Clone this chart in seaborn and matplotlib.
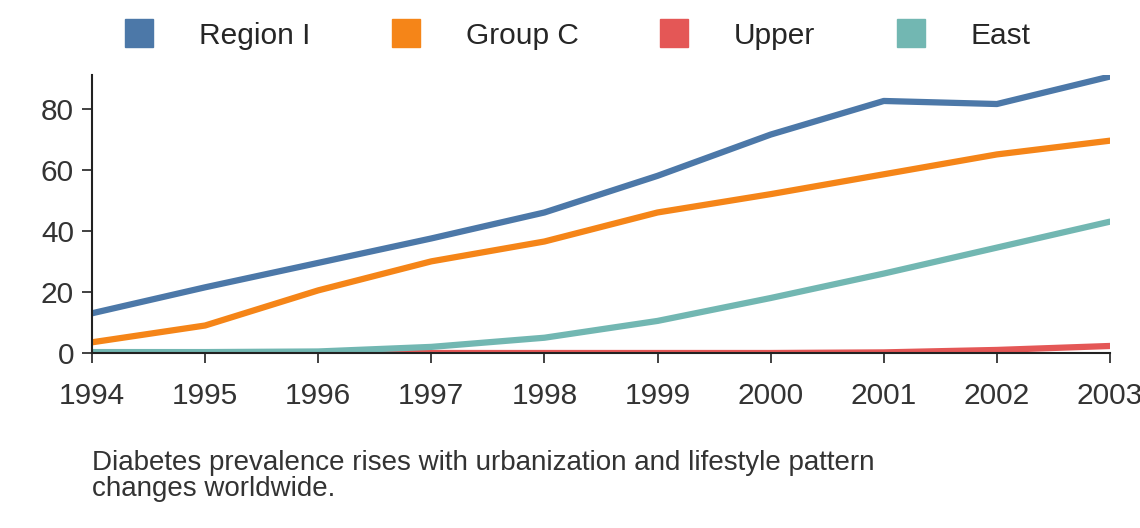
import matplotlib
matplotlib.use("Agg")
import matplotlib.pyplot as plt
import seaborn as sns
import pandas as pd
from matplotlib.lines import Line2D

years = [1994, 1995, 1996, 1997, 1998, 1999, 2000, 2001, 2002, 2003]
region_i = [13, 21.5, 29.5, 37.5, 46, 58, 71.5, 82.5, 81.5, 90.5]
group_c = [3.5, 9, 20.5, 30, 36.5, 46, 52, 58.5, 65, 69.5]
upper = [0, 0, 0, 0, 0, 0, 0, 0.2, 1, 2.3]
east = [0.3, 0.3, 0.5, 2, 5, 10.5, 18, 26, 34.5, 43]
names = ["Region I", "Group C", "Upper", "East"]
colors = ["#4c78a8", "#f58518", "#e45756", "#72b7b2"]

df = pd.DataFrame({"year": years * 4,
                   "value": region_i + group_c + upper + east,
                   "series": sum([[n] * len(years) for n in names], [])})

sns.set_style("ticks")
plt.rcParams['font.family'] = ['Liberation Sans', 'DejaVu Sans']
fig = plt.figure(figsize=(11.4, 5.28), dpi=100)
ax = fig.add_axes([92/1140, 1-353/528, (1110-92)/1140, (353-75)/528])
sns.lineplot(data=df, x="year", y="value", hue="series", palette=colors,
             hue_order=names, linewidth=4.5, legend=False, ax=ax)
ax.set_xlim(1994, 2003)
ax.set_ylim(0, 91)
ax.set_xticks(years)
ax.set_yticks([0, 20, 40, 60, 80])
ax.set_xlabel("")
ax.set_ylabel("")
ax.tick_params(labelsize=21.5, colors="#333333", length=7, width=1.3)
ax.tick_params(axis="x", pad=14)
ax.tick_params(axis="y", pad=6)
for s in ["top", "right"]:
    ax.spines[s].set_visible(False)
for s in ["left", "bottom"]:
    ax.spines[s].set_linewidth(1.5)
    ax.spines[s].set_color("#222222")
handles = [Line2D([], [], marker="s", linestyle="", markersize=20, color=c) for c in colors]
fig.legend(handles, names, loc="upper center", bbox_to_anchor=(0.5, 1.01), ncol=4,
           frameon=False, fontsize=21.5, handletextpad=1.0, columnspacing=2.2)
fig.text(92/1140, 1-450/528, "Diabetes prevalence rises with urbanization and lifestyle pattern\nchanges worldwide.",
         fontsize=20, color="#333333", va="top", linespacing=1.0)
fig.savefig("out.png", dpi=100)
